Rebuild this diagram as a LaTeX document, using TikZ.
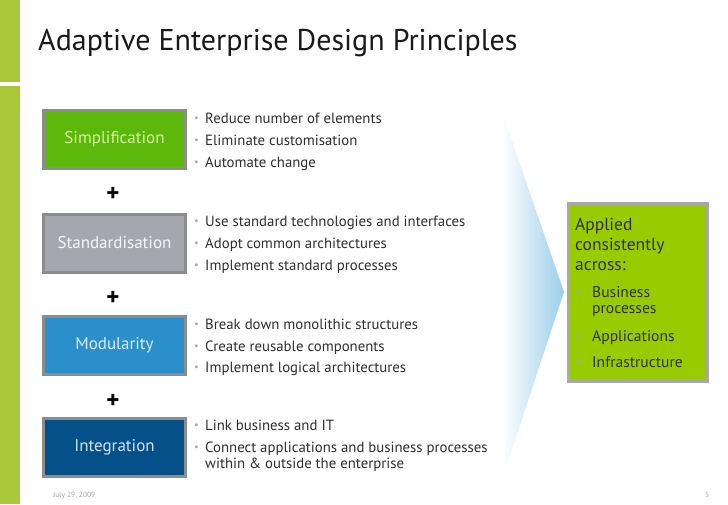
\documentclass[tikz,border=0pt]{standalone}
\usepackage{fontspec}
\setmainfont{PT Sans}
\usepackage{tikz}
\usetikzlibrary{positioning}

\definecolor{bargreen}{HTML}{A9C93A}
\definecolor{boxgray}{HTML}{8C8C8C}
\definecolor{simpgreen}{HTML}{5CB80A}
\definecolor{simptext}{HTML}{D9F2A6}
\definecolor{stdgray}{HTML}{A6A6AE}
\definecolor{modblue}{HTML}{2B8FCC}
\definecolor{modtext}{HTML}{D8EEFA}
\definecolor{intblue}{HTML}{055089}
\definecolor{inttext}{HTML}{CFE3F3}
\definecolor{limegreen}{HTML}{99CC00}
\definecolor{limeframe}{HTML}{A8A8A8}
\definecolor{textgray}{HTML}{2E2E2E}
\definecolor{dotgray}{HTML}{A8A8A8}
\definecolor{chevblue}{HTML}{9ACEEA}

\newcommand{\blt}[1]{\makebox[#1][l]{\color{dotgray}\raisebox{0.12em}{\scalebox{0.7}{\textbullet}}}}

\begin{document}
\begin{tikzpicture}
      [
      x=1pt,y=-1pt,
      principle/.style={rectangle,draw=boxgray,line width=3pt,inner sep=0pt,minimum width=142pt,minimum height=58pt,font=\fontsize{17}{19}\selectfont},
      plus/.style={inner sep=0pt,font=\fontsize{25}{27}\selectfont\bfseries,text=black},
      point/.style={anchor=base west,inner sep=0pt,font=\fontsize{14.8}{16}\selectfont,text=textgray},
      target/.style={rectangle,draw=limeframe,fill=limegreen,line width=3pt,inner sep=0pt,minimum width=139pt,minimum height=178pt},
      across/.style={anchor=base west,inner sep=0pt,font=\fontsize{15.6}{18}\selectfont,text=textgray},
      footer/.style={anchor=base west,inner sep=0pt,font=\fontsize{7.5}{9}\selectfont,text=gray!70}
      ]
      \useasboundingbox (0,0) rectangle (728,504);
      % green side bar
      \fill [bargreen] (0,0) rectangle (20,82);
      \fill [bargreen] (0,86) rectangle (20,504);
      \node (title) at (38,50) [anchor=base west,inner sep=0pt,font=\fontsize{30}{34}\selectfont,text=black!90] {Adaptive Enterprise Design Principles};
      % principles
      \node (simp) at (114.5,139.5) [principle,fill=simpgreen,text=simptext] {Simplification};
      \node (std) at (114.5,243) [principle,fill=stdgray,text=white!94!gray] {Standardisation};
      \node (mod) at (114.5,345) [principle,fill=modblue,text=modtext] {Modularity};
      \node (int) at (114.5,447.5) [principle,fill=intblue,text=inttext] {Integration};
      \node (p1) at (113,194) [plus] {+};
      \node (p2) at (113,298) [plus] {+};
      \node (p3) at (113,401) [plus] {+};
      % bullet points
      \node (simp1) at (194,123) [point] {\blt{11pt}Reduce number of elements};
      \node (simp2) at (194,145) [point] {\blt{11pt}Eliminate customisation};
      \node (simp3) at (194,167) [point] {\blt{11pt}Automate change};
      \node (std1) at (194,226) [point] {\blt{11pt}Use standard technologies and interfaces};
      \node (std2) at (194,248) [point] {\blt{11pt}Adopt common architectures};
      \node (std3) at (194,270) [point] {\blt{11pt}Implement standard processes};
      \node (mod1) at (194,329) [point] {\blt{11pt}Break down monolithic structures};
      \node (mod2) at (194,351) [point] {\blt{11pt}Create reusable components};
      \node (mod3) at (194,372) [point] {\blt{11pt}Implement logical architectures};
      \node (int1) at (194,430) [point] {\blt{11pt}Link business and IT};
      \node (int2) at (194,452) [point] {\blt{11pt}Connect applications and business processes};
      \node (int2b) at (205,468) [point] {within \& outside the enterprise};
      % chevron
      \shade [left color=white,right color=chevblue] (502,112) -- (564,292) -- (505,470) -- cycle;
      % applied across
      \node (box) at (638,292.5) [target] {};
      \node (app1) at (575,230) [across,font=\fontsize{17.5}{20}\selectfont] {Applied};
      \node (app2) at (575,250) [across,font=\fontsize{17.5}{20}\selectfont] {consistently};
      \node (app3) at (575,270) [across,font=\fontsize{17.5}{20}\selectfont] {across:};
      \node (bp) at (576,297) [across] {\blt{16pt}Business};
      \node (bp2) at (592,313) [across] {processes};
      \node (apps) at (576,341) [across] {\blt{16pt}Applications};
      \node (infra) at (576,367) [across] {\blt{16pt}Infrastructure};
      % footer
      \node (date) at (53,497) [footer] {July 29, 2009};
      \node (page) at (705,497) [footer] {5};
\end{tikzpicture}
\end{document}
